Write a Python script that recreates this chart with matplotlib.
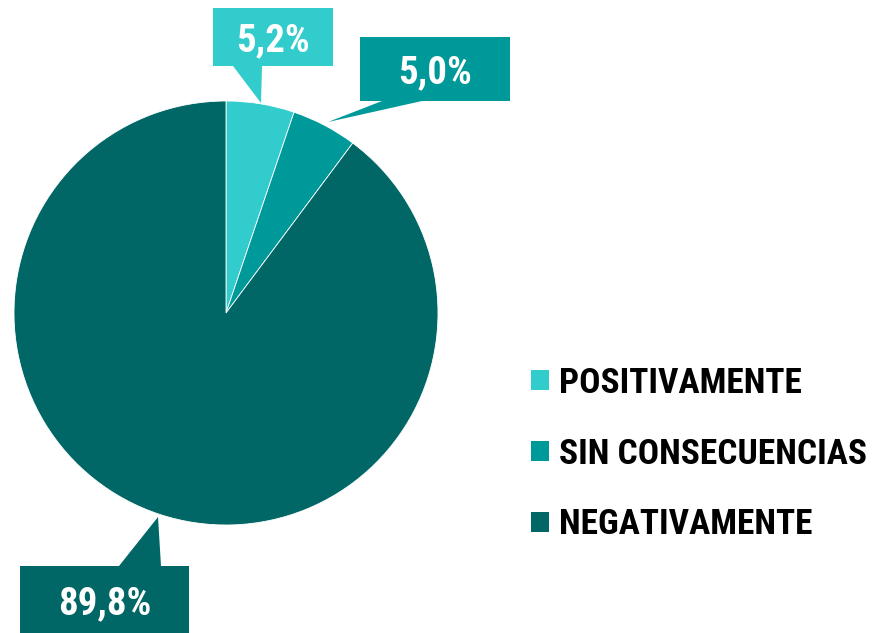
import matplotlib
matplotlib.use("Agg")
import matplotlib.pyplot as plt
from matplotlib.patches import Polygon

# datos
categorias = ["POSITIVAMENTE", "SIN CONSECUENCIAS", "NEGATIVAMENTE"]
valores = [5.2, 5.0, 89.8]
colores = ["#33CCCC", "#009999", "#006666"]

fuente = ["Roboto Condensed", "DejaVu Sans"]

W, H = 874, 633
fig = plt.figure(figsize=(W / 100, H / 100), dpi=100)
ax = fig.add_axes([0, 0, 1, 1])

# pastel (coordenadas en pixeles, y hacia arriba)
cx, cy, r = 226, H - 313, 212
wedges, _ = ax.pie(valores, colors=colores, startangle=90, counterclock=False,
                   center=(cx, cy), radius=r,
                   wedgeprops=dict(edgecolor="white", linewidth=0.6))
ax.set_xlim(0, W)
ax.set_ylim(0, H)
ax.set_aspect("equal")
ax.axis("off")

# globos con etiquetas: caja (x0, y0, x1, y1 en pixeles desde arriba), base del pico, punta
globos = [
    ((213, 8, 333, 66), (233, 262), (261, 103), "bottom"),
    ((360, 37, 510, 101), (382, 422), (328, 122), "bottom"),
    ((20, 566, 189, 640), (119, 161), (158, 517), "top"),
]
for (box, base, tip, lado), v, c in zip(globos, valores, colores):
    x0, y0, x1, y1 = box
    ax.add_patch(Polygon([(x0, H - y0), (x1, H - y0), (x1, H - y1), (x0, H - y1)],
                         closed=True, fc=c, ec="none", zorder=5))
    yb = y1 if lado == "bottom" else y0
    ax.add_patch(Polygon([(base[0], H - yb), (base[1], H - yb), (tip[0], H - tip[1])],
                         closed=True, fc=c, ec="none", zorder=5))
    ym = (y0 + min(y1, H)) / 2
    ax.text((x0 + x1) / 2, H - ym, f"{v:.1f}%".replace(".", ","),
            ha="center", va="center_baseline", color="white", fontsize=28,
            fontweight="bold", family=fuente, zorder=6)

# leyenda
leg = ax.legend(wedges, categorias, loc="center left",
                bbox_to_anchor=(531, H - 454), bbox_transform=ax.transData,
                frameon=False, borderpad=0, borderaxespad=0,
                handlelength=0.5, handleheight=0.5, handletextpad=0.3,
                labelspacing=1.07,
                prop=dict(family=fuente, weight="bold", size=25.5))
for h in leg.legend_handles:
    h.set_edgecolor("none")

fig.savefig("out.png", dpi=100)
